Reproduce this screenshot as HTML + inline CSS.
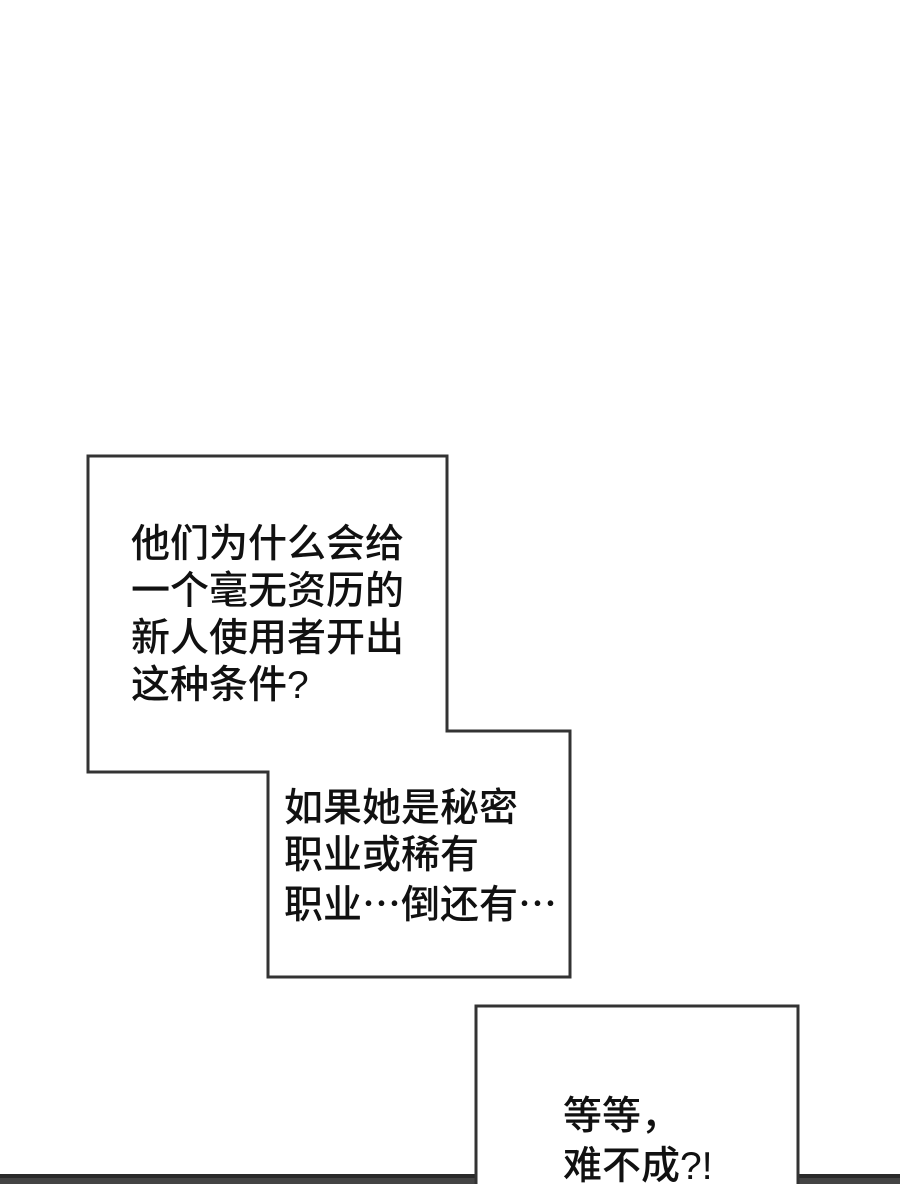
<!DOCTYPE html>
<html><head><meta charset="utf-8"><style>
html,body{margin:0;padding:0;background:#fff;width:900px;height:1184px;overflow:hidden;position:relative}
.t{position:absolute;font-family:"Liberation Sans","Noto Sans CJK SC",sans-serif;font-size:39px;line-height:47px;color:#111;font-weight:500;white-space:nowrap}
.c{font-family:"Noto Sans CJK SC",sans-serif}
</style></head><body>
<svg width="900" height="1184" style="position:absolute;left:0;top:0">
<rect x="0" y="1174" width="900" height="10" fill="#2a2a2a"/>
<rect x="0" y="1178" width="900" height="6" fill="#444"/>
<path d="M88 456 H447 V731 H570 V977 H268 V772 H88 Z" fill="#fff" stroke="#333" stroke-width="3"/>
<path d="M476 1184 V1006 H798 V1184" fill="#fff" stroke="#333" stroke-width="3"/>
</svg>
<div class="t" style="left:131px;top:521px">他们为什么会给<br>一个毫无资历的<br>新人使用者开出<br>这种条件?</div>
<div class="t" style="left:284px;top:785px">如果她是秘密<br>职业或稀有<br>职业<span class="c">…</span>倒还有<span class="c">…</span></div>
<div class="t" style="left:563px;top:1088px;line-height:50px">等等<span class="c">，</span><br>难不成?!</div>
</body></html>
